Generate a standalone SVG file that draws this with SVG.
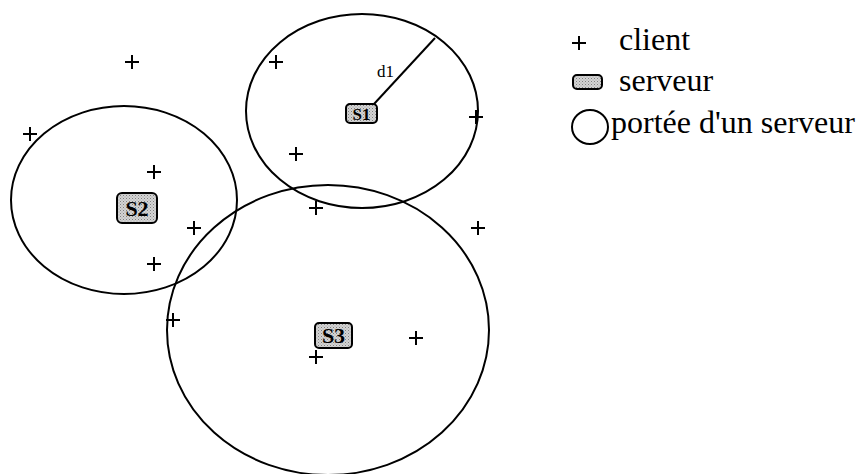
<svg xmlns="http://www.w3.org/2000/svg" width="861" height="474" viewBox="0 0 861 474">
<defs>
<pattern id="dots" width="3" height="3" patternUnits="userSpaceOnUse">
<rect width="3" height="3" fill="#d4d4d4"/>
<rect width="1" height="1" fill="#808080"/>
<rect x="1.5" y="1.5" width="1" height="1" fill="#a0a0a0"/>
</pattern>
<path id="cross" d="M-7,0 H7 M0,-7 V7"/>
</defs>
<style>
.rng{fill:none;stroke:#000;stroke-width:2}
.cl{stroke:#000;stroke-width:2;fill:none}
.srv{fill:url(#dots);stroke:#000;stroke-width:2}
.lbl{font-family:"Liberation Serif","Times New Roman",serif;font-size:22px;fill:#000;font-weight:bold}
.leg{font-family:"Liberation Serif","Times New Roman",serif;font-size:32px;fill:#000}
.d{font-family:"Liberation Serif","Times New Roman",serif;font-size:17px;fill:#000}
</style>
<g id="ranges">
<ellipse class="rng" cx="362" cy="111" rx="116" ry="97"/>
<ellipse class="rng" cx="124" cy="200" rx="113" ry="94"/>
<ellipse class="rng" cx="328" cy="330" rx="161" ry="145"/>
</g>
<g id="connectors">
<line x1="374" y1="104" x2="435" y2="38" stroke="#000" stroke-width="2"/>
<text class="d" x="377" y="77">d1</text>
</g>
<g id="S1">
<rect class="srv" x="346" y="104" width="31" height="19" rx="4"/>
<text class="lbl" x="361.5" y="120" text-anchor="middle" style="font-size:17px">S1</text>
</g>
<g id="S2">
<rect class="srv" x="117" y="193" width="40" height="30" rx="5"/>
<text class="lbl" x="137" y="216" text-anchor="middle">S2</text>
</g>
<g id="S3">
<rect class="srv" x="315" y="323" width="37" height="25" rx="4"/>
<text class="lbl" x="333.5" y="343" text-anchor="middle">S3</text>
</g>
<g id="clients" class="cl">
<use href="#cross" x="132" y="62"/>
<use href="#cross" x="276" y="62"/>
<use href="#cross" x="476" y="117"/>
<use href="#cross" x="30" y="134"/>
<use href="#cross" x="296" y="154"/>
<use href="#cross" x="154" y="172"/>
<use href="#cross" x="316" y="208"/>
<use href="#cross" x="194" y="228"/>
<use href="#cross" x="478" y="228"/>
<use href="#cross" x="154" y="264"/>
<use href="#cross" x="173" y="320"/>
<use href="#cross" x="416" y="338"/>
<use href="#cross" x="316" y="357"/>
</g>
<g id="legend">
<use href="#cross" x="579" y="43" class="cl"/>
<text class="leg" x="619" y="50">client</text>
<rect class="srv" x="573" y="75" width="29" height="14" rx="4"/>
<text class="leg" x="619" y="91">serveur</text>
<ellipse class="rng" cx="590" cy="127" rx="18" ry="17"/>
<text class="leg" x="611" y="133">portée d'un serveur</text>
</g>
</svg>
